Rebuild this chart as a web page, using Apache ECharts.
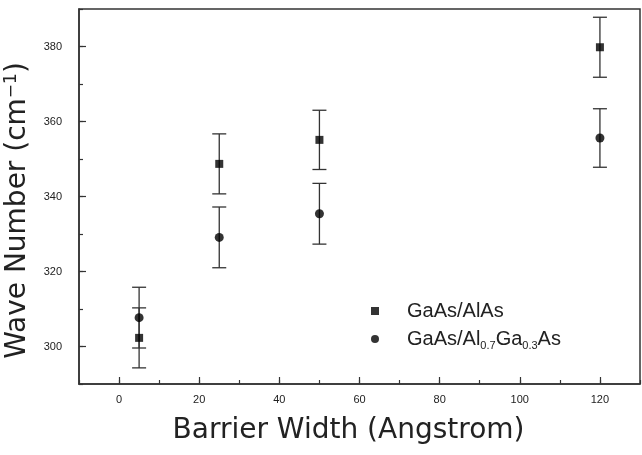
<!DOCTYPE html>
<html><head><meta charset="utf-8">
<script src="https://cdn.jsdelivr.net/npm/echarts@6/dist/echarts.min.js"></script>
<style>html,body{margin:0;padding:0;background:#fff}#c{width:642px;height:455px}</style>
</head><body><div id="c"></div>
<script>
// ---- data ----
const barrierWidths = [5, 25, 50, 120];
const gaasAlasValues = [302.3, 348.7, 355.1, 379.8];
const gaasAlasErrors = [8, 8, 7.9, 8];
const gaasAlGaAsValues = [307.7, 329.1, 335.4, 355.6];
const gaasAlGaAsErrors = [8.1, 8.1, 8.1, 7.8];
const xTickLabels = [0, 20, 40, 60, 80, 100, 120];
const yTickLabels = [300, 320, 340, 360, 380];
const seriesNames = ['GaAs/AlAs', 'GaAs/Al0.7Ga0.3As'];

// ---- layout ----
const X_MIN = -10, X_MAX = 130, Y_MIN = 290, Y_MAX = 390;
const box = { left: 79, top: 9, width: 561, height: 375 };
const sx = box.width / (X_MAX - X_MIN), sy = box.height / (Y_MAX - Y_MIN);
const xMajMin = xTickLabels[0], xMajMax = xTickLabels[xTickLabels.length - 1];
const yMajMin = yTickLabels[0], yMajMax = yTickLabels[yTickLabels.length - 1];
const LINE = '#333';
const TXT = '#222';

const chart = echarts.init(document.getElementById('c'), null, { renderer: 'canvas' });

function pts(vals) { return barrierWidths.map((x, i) => [x, vals[i]]); }
function errs(vals, e) { return barrierWidths.map((x, i) => [x, vals[i], e[i]]); }

function errRender(params, api) {
  const x = api.value(0), y = api.value(1), e = api.value(2);
  const hi = api.coord([x, y + e]);
  const lo = api.coord([x, y - e]);
  const cap = 7;
  const st = { stroke: LINE, lineWidth: 1.3 };
  return {
    type: 'group',
    children: [
      { type: 'line', shape: { x1: hi[0], y1: hi[1], x2: lo[0], y2: lo[1] }, style: st },
      { type: 'line', shape: { x1: hi[0] - cap, y1: hi[1], x2: hi[0] + cap, y2: hi[1] }, style: st },
      { type: 'line', shape: { x1: lo[0] - cap, y1: lo[1], x2: lo[0] + cap, y2: lo[1] }, style: st }
    ]
  };
}

const option = {
  backgroundColor: '#fff',
  animation: false,
  grid: [
    { left: box.left, top: box.top, width: box.width, height: box.height, show: true, borderColor: LINE, borderWidth: 1.5, backgroundColor: 'transparent', containLabel: false, outerBoundsMode: 'none' },
    { left: box.left + (xMajMin - X_MIN) * sx, width: (xMajMax - xMajMin) * sx, top: box.top, height: box.height, containLabel: false, outerBoundsMode: 'none' },
    { left: box.left, width: box.width, top: box.top + (Y_MAX - yMajMax) * sy, height: (yMajMax - yMajMin) * sy, containLabel: false, outerBoundsMode: 'none' }
  ],
  xAxis: [
    {
      gridIndex: 0, type: 'value', min: X_MIN, max: X_MAX, interval: 10,
      axisLine: { show: true, onZero: false, lineStyle: { color: LINE, width: 1.5 } },
      axisTick: { show: true, inside: true, length: 4, lineStyle: { color: LINE, width: 1.2 } },
      axisLabel: { show: false }, splitLine: { show: false },
      name: 'Barrier Width (Angstrom)', nameLocation: 'middle', nameGap: 33,
      nameTextStyle: { fontFamily: 'DejaVu Sans', fontSize: 28, color: TXT, padding: [0, 22, 0, 0] }
    },
    {
      gridIndex: 1, type: 'value', min: xMajMin, max: xMajMax, interval: 20,
      axisLine: { show: false, onZero: false },
      axisTick: { show: true, inside: true, length: 7, lineStyle: { color: LINE, width: 1.2 } },
      axisLabel: { show: true, margin: 10, fontFamily: 'Liberation Sans', fontSize: 11, color: TXT,
        formatter: v => xTickLabels.includes(v) ? String(v) : '' },
      splitLine: { show: false }
    },
    { gridIndex: 2, type: 'value', min: X_MIN, max: X_MAX, show: false, axisLine: { onZero: false } }
  ],
  yAxis: [
    {
      gridIndex: 0, type: 'value', min: Y_MIN, max: Y_MAX, interval: 10,
      axisLine: { show: true, onZero: false, lineStyle: { color: LINE, width: 1.5 } },
      axisTick: { show: true, inside: true, length: 4, lineStyle: { color: LINE, width: 1.2 } },
      axisLabel: { show: false }, splitLine: { show: false },
      name: 'Wave Number (cm{sup|\u22121})', nameLocation: 'middle', nameGap: 46, nameRotate: 90,
      nameTextStyle: {
        fontFamily: 'DejaVu Sans', fontSize: 28, color: TXT, lineHeight: 30, padding: [0, 28, 0, 0],
        rich: { sup: { fontFamily: 'DejaVu Sans', fontSize: 17, color: TXT, verticalAlign: 'top', lineHeight: 20 } }
      }
    },
    { gridIndex: 1, type: 'value', min: Y_MIN, max: Y_MAX, show: false, axisLine: { onZero: false } },
    {
      gridIndex: 2, type: 'value', min: yMajMin, max: yMajMax, interval: 20,
      axisLine: { show: false, onZero: false },
      axisTick: { show: true, inside: true, length: 7, lineStyle: { color: LINE, width: 1.2 } },
      axisLabel: { show: true, margin: 17, fontFamily: 'Liberation Sans', fontSize: 11, color: TXT,
        formatter: v => yTickLabels.includes(v) ? String(v) : '' },
      splitLine: { show: false }
    }
  ],
  legend: {
    orient: 'vertical', left: 366, top: 294, itemGap: 4, itemWidth: 8, itemHeight: 8,
    data: seriesNames,
    formatter: n => n === seriesNames[1] ? 'GaAs/Al{s|0.7}Ga{s|0.3}As' : n,
    textStyle: {
      fontFamily: 'Liberation Sans', fontSize: 20, color: TXT, lineHeight: 24, padding: [0, 0, 0, 23],
      rich: { s: { fontFamily: 'Liberation Sans', fontSize: 11, color: TXT, verticalAlign: 'bottom', lineHeight: 8 } }
    }
  },
  series: [
    { type: 'custom', xAxisIndex: 0, yAxisIndex: 0, renderItem: errRender, data: errs(gaasAlasValues, gaasAlasErrors), z: 2, silent: true },
    { type: 'custom', xAxisIndex: 0, yAxisIndex: 0, renderItem: errRender, data: errs(gaasAlGaAsValues, gaasAlGaAsErrors), z: 2, silent: true },
    { name: seriesNames[0], type: 'scatter', xAxisIndex: 0, yAxisIndex: 0, symbol: 'rect', symbolSize: 8,
      itemStyle: { color: '#000' }, data: pts(gaasAlasValues), z: 5 },
    { name: seriesNames[1], type: 'scatter', xAxisIndex: 0, yAxisIndex: 0, symbol: 'circle', symbolSize: 9,
      itemStyle: { color: '#000' }, data: pts(gaasAlGaAsValues), z: 5 }
  ]
};
chart.setOption(option);
</script>
</body></html>
